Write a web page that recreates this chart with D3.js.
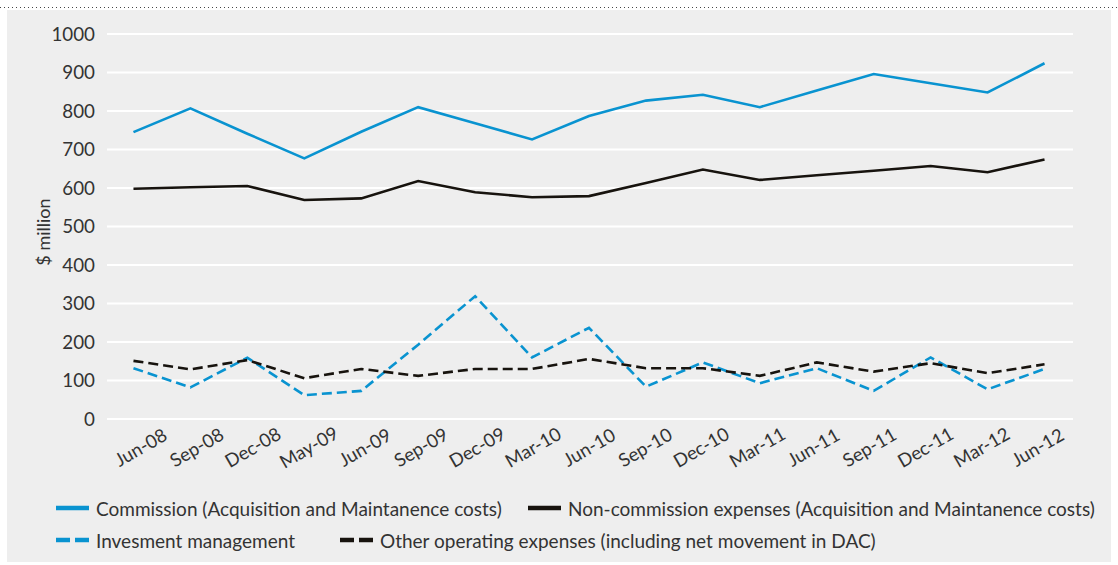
<!DOCTYPE html>
<html>
<head>
<meta charset="utf-8">
<script src="https://cdn.jsdelivr.net/npm/d3@7"></script>
<style>
  html, body { margin: 0; padding: 0; background: #ffffff; }
  svg { display: block; }
  text { font-family: Lato, "Open Sans", sans-serif; fill: #333333; }
</style>
</head>
<body>
<svg id="chart" width="1118" height="565"></svg>
<script>
// Quarterly periods on the x axis
const periods = ["Jun-08", "Sep-08", "Dec-08", "May-09", "Jun-09", "Sep-09", "Dec-09", "Mar-10", "Jun-10",
                 "Sep-10", "Dec-10", "Mar-11", "Jun-11", "Sep-11", "Dec-11", "Mar-12", "Jun-12"];

// Expense series, $ million
const commission    = [745, 807, 741, 677, 746, 810, 768, 726, 787, 827, 842, 810, 853, 896, 872, 848, 924];
const nonCommission = [598, 602, 605, 569, 573, 618, 589, 576, 579, 613, 648, 621, 633, 645, 657, 641, 674];
const investment    = [132, 82, 159, 62, 73, 193, 319, 160, 237, 84, 147, 93, 132, 73, 160, 77, 130];
const otherOpex     = [151, 129, 153, 106, 130, 112, 130, 130, 156, 132, 132, 112, 147, 123, 145, 119, 142];

const yTicks = [0, 100, 200, 300, 400, 500, 600, 700, 800, 900, 1000];

const seriesNames = [
  "Commission (Acquisition and Maintanence costs)",
  "Non-commission expenses (Acquisition and Maintanence costs)",
  "Invesment management",
  "Other operating expenses (including net movement in DAC)"
];

const BLUE = "#0993d0";
const BLACK = "#17130e";

const series = [
  { name: seriesNames[0], values: commission,    color: BLUE,  dash: null },
  { name: seriesNames[1], values: nonCommission, color: BLACK, dash: null },
  { name: seriesNames[2], values: investment,    color: BLUE,  dash: "10,5" },
  { name: seriesNames[3], values: otherOpex,     color: BLACK, dash: "10,5" }
];

const svg = d3.select("#chart");

// Page frame: dotted rule and grey panel
svg.append("line")
  .attr("x1", 0).attr("x2", 1118).attr("y1", 7.5).attr("y2", 7.5)
  .attr("stroke", "#444").attr("stroke-width", 1).attr("stroke-dasharray", "1,3");
svg.append("rect")
  .attr("x", 7).attr("y", 10).attr("width", 1104).attr("height", 552)
  .attr("fill", "#eeeeee");

const x = d3.scalePoint().domain(periods).range([105, 1073]).padding(0.5);
// category labels sit on a slightly tighter spacing than the data points
const xLabel = d3.scalePoint().domain(periods).range([112, 1065]).padding(0.5);
const y = d3.scaleLinear().domain([0, 1000]).range([419, 34]);

// Horizontal gridlines
svg.append("g").selectAll("line").data(yTicks).join("line")
  .attr("x1", 107).attr("x2", 1073)
  .attr("y1", d => y(d)).attr("y2", d => y(d))
  .attr("stroke", "#ffffff").attr("stroke-width", 2.2);

// Y axis labels
const yAxis = svg.append("g")
  .attr("transform", "translate(95,0)")
  .call(d3.axisLeft(y).tickValues(yTicks).tickSize(0).tickPadding(0).tickFormat(d3.format("d")));
yAxis.select(".domain").remove();
yAxis.selectAll("text")
  .style("font-family", "Lato, 'Open Sans', sans-serif")
  .style("font-size", "18.8px")
  .attr("fill", "#333333");

svg.append("text")
  .attr("transform", "translate(50,232) rotate(-90)")
  .attr("text-anchor", "middle")
  .style("font-size", "18px")
  .text("$ million");

// X axis labels, slanted
const xAxis = svg.append("g")
  .attr("transform", "translate(0,419)")
  .call(d3.axisBottom(xLabel).tickSize(0).tickPadding(0));
xAxis.select(".domain").remove();
xAxis.selectAll(".tick text")
  .style("font-family", "Lato, 'Open Sans', sans-serif")
  .style("font-size", "18.5px")
  .attr("fill", "#333333")
  .attr("text-anchor", "middle")
  .attr("dy", null)
  .attr("y", 0)
  .attr("transform", "translate(0,28) rotate(-30)")
  .attr("dominant-baseline", "central");

// Series lines
const line = d3.line()
  .x((d, i) => x(periods[i]))
  .y(d => y(d));

svg.append("g").selectAll("path").data(series).join("path")
  .attr("d", s => line(s.values))
  .attr("fill", "none")
  .attr("stroke", s => s.color)
  .attr("stroke-width", 2.6)
  .attr("stroke-linejoin", "miter")
  .attr("stroke-dasharray", s => s.dash);

// Legend
const legendItems = [
  { s: series[0], x: 55,  y: 508 },
  { s: series[1], x: 527, y: 508 },
  { s: series[2], x: 55,  y: 540 },
  { s: series[3], x: 339, y: 540 }
];
const lg = svg.append("g").selectAll("g").data(legendItems).join("g")
  .attr("transform", d => `translate(${d.x},${d.y})`);
lg.each(function (d) {
  const g = d3.select(this);
  if (d.s.dash) {
    g.append("line").attr("x1", 1).attr("x2", 15).attr("y1", 0).attr("y2", 0)
      .attr("stroke", d.s.color).attr("stroke-width", 4.5);
    g.append("line").attr("x1", 20).attr("x2", 34).attr("y1", 0).attr("y2", 0)
      .attr("stroke", d.s.color).attr("stroke-width", 4.5);
  } else {
    g.append("line").attr("x1", 1).attr("x2", 34).attr("y1", 0).attr("y2", 0)
      .attr("stroke", d.s.color).attr("stroke-width", 4.5);
  }
  g.append("text")
    .attr("x", 41).attr("y", 0)
    .attr("dominant-baseline", "central")
    .style("font-size", "19px")
    .text(d.s.name);
});
</script>
</body>
</html>
